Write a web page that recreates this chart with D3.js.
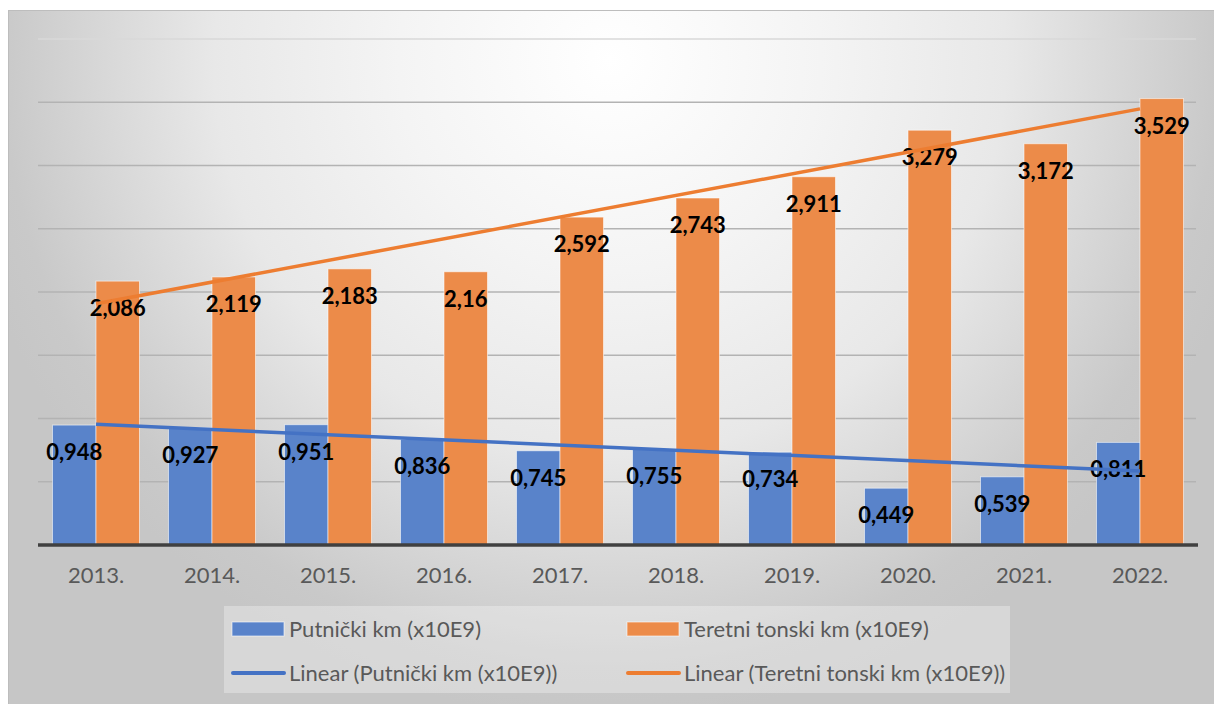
<!DOCTYPE html>
<html>
<head>
<meta charset="utf-8">
<script src="https://cdn.jsdelivr.net/npm/d3@7"></script>
<style>
  html, body { margin: 0; padding: 0; background: #fff; }
  svg { display: block; }
</style>
</head>
<body>
<div id="chart"></div>
<script>
// data
const years = ['2013.', '2014.', '2015.', '2016.', '2017.', '2018.', '2019.', '2020.', '2021.', '2022.'];
const putnicki = [0.948, 0.927, 0.951, 0.836, 0.745, 0.755, 0.734, 0.449, 0.539, 0.811];
const teretni = [2.086, 2.119, 2.183, 2.16, 2.592, 2.743, 2.911, 3.279, 3.172, 3.529];
const gridValues = [0.5, 1, 1.5, 2, 2.5, 3, 3.5, 4];
const seriesNames = ['Putnički km (x10E9)', 'Teretni tonski km (x10E9)'];
const trendNames = ['Linear (Putnički km (x10E9))', 'Linear (Teretni tonski km (x10E9))'];

const width = 1214, height = 704;
const colors = { blueBar: '#5983ca', orangeBar: '#ec8b49', blueLine: '#4472c4', orangeLine: '#ed7d31' };

const svg = d3.select('#chart').append('svg')
  .attr('width', width)
  .attr('height', height);

// background gradient
const defs = svg.append('defs');
const grad = defs.append('radialGradient')
  .attr('id', 'bg')
  .attr('gradientUnits', 'userSpaceOnUse')
  .attr('cx', 610).attr('cy', 60).attr('r', 660);
[[0, '#ffffff'], [0.32, '#f4f4f4'], [0.6, '#e8e8e8'], [0.92, '#c9c9c9'], [1, '#c6c6c6']]
  .forEach(s => grad.append('stop').attr('offset', s[0]).attr('stop-color', s[1]));

svg.append('rect')
  .attr('x', 8).attr('y', 10)
  .attr('width', width - 8).attr('height', height - 10)
  .attr('fill', 'url(#bg)');
svg.append('line')
  .attr('x1', 8).attr('x2', width).attr('y1', 10.5).attr('y2', 10.5)
  .attr('stroke', '#bdbdbd').attr('stroke-width', 1);
svg.append('line')
  .attr('x1', 8.5).attr('x2', 8.5).attr('y1', 10).attr('y2', height)
  .attr('stroke', '#bdbdbd').attr('stroke-width', 1);

// scales
const xScale = d3.scaleBand()
  .domain(years)
  .range([38, 1198])
  .paddingInner(0.25)
  .paddingOuter(0.125);

const xSub = d3.scaleBand()
  .domain([0, 1])
  .range([0, xScale.bandwidth()]);

const yScale = d3.scaleLinear()
  .domain([0, 4])
  .range([545, 39]);

// gridlines
svg.append('g')
  .selectAll('line')
  .data(gridValues)
  .join('line')
  .attr('x1', 38).attr('x2', 1196)
  .attr('y1', d => yScale(d)).attr('y2', d => yScale(d))
  .attr('stroke', d => d === 4 ? '#d8d8d8' : '#b3b3b3')
  .attr('stroke-width', 1.5);

// bars
const rows = years.map((y, i) => ({ year: y, vals: [putnicki[i], teretni[i]] }));
const groups = svg.append('g')
  .selectAll('g')
  .data(rows)
  .join('g')
  .attr('transform', d => `translate(${xScale(d.year)},0)`);

groups.selectAll('rect')
  .data(d => d.vals.map((v, k) => ({ k, v })))
  .join('rect')
  .attr('x', d => xSub(d.k))
  .attr('y', d => yScale(d.v))
  .attr('width', xSub.bandwidth())
  .attr('height', d => yScale(0) - yScale(d.v))
  .attr('fill', d => d.k === 0 ? colors.blueBar : colors.orangeBar)
  .attr('stroke', 'rgba(255,255,255,0.55)')
  .attr('stroke-width', 1);

// x axis
const xAxis = svg.append('g')
  .attr('transform', `translate(0, ${yScale(0)})`)
  .call(d3.axisBottom(xScale).tickSize(0).tickPadding(0));
xAxis.select('.domain').remove();
xAxis.selectAll('text')
  .attr('y', 38)
  .attr('dy', 0)
  .attr('fill', '#595959')
  .style('font-family', 'Lato, "Open Sans", sans-serif')
  .style('font-size', '22px');
svg.append('line')
  .attr('x1', 38).attr('x2', 1198)
  .attr('y1', yScale(0)).attr('y2', yScale(0))
  .attr('stroke', '#404040')
  .attr('stroke-width', 3.5);

// data labels
groups.selectAll('text.lbl')
  .data(d => d.vals.map((v, k) => ({ k, v })))
  .join('text')
  .attr('class', 'lbl')
  .attr('x', d => xSub(d.k) + xSub.bandwidth() / 2)
  .attr('y', d => yScale(d.v) + 35)
  .attr('text-anchor', 'middle')
  .attr('fill', '#000')
  .style('font-family', 'Lato, "Open Sans", sans-serif')
  .style('font-weight', 'bold')
  .style('font-size', '22px')
  .text(d => String(d.v).replace('.', ','));

// linear trend lines (least squares, like the spreadsheet trendline)
function trend(vals) {
  const n = vals.length;
  const mx = d3.mean(vals, (v, i) => i);
  const my = d3.mean(vals);
  const sxy = d3.sum(vals, (v, i) => (i - mx) * (v - my));
  const sxx = d3.sum(vals, (v, i) => (i - mx) * (i - mx));
  const b = sxy / sxx;
  const a = my - b * mx;
  return [[0, a], [n - 1, a + b * (n - 1)]];
}

const line = d3.line()
  .x(d => xScale(years[d[0]]) + xScale.bandwidth() / 2)
  .y(d => yScale(d[1]));

svg.append('path')
  .datum(trend(putnicki))
  .attr('fill', 'none')
  .attr('stroke', colors.blueLine)
  .attr('stroke-width', 3.5)
  .attr('d', line);

svg.append('path')
  .datum(trend(teretni))
  .attr('fill', 'none')
  .attr('stroke', colors.orangeLine)
  .attr('stroke-width', 3.5)
  .attr('d', line);

// legend
const legend = svg.append('g');
legend.append('rect')
  .attr('x', 224).attr('y', 606)
  .attr('width', 786).attr('height', 87)
  .attr('fill', 'rgba(255,255,255,0.3)');

const legendItems = [
  { name: seriesNames[0], color: colors.blueBar, type: 'bar', col: 0, row: 0 },
  { name: seriesNames[1], color: colors.orangeBar, type: 'bar', col: 1, row: 0 },
  { name: trendNames[0], color: colors.blueLine, type: 'line', col: 0, row: 1 },
  { name: trendNames[1], color: colors.orangeLine, type: 'line', col: 1, row: 1 }
];

const li = legend.selectAll('g.item')
  .data(legendItems)
  .join('g')
  .attr('class', 'item')
  .attr('transform', d => `translate(${232 + d.col * 395}, ${629 + d.row * 44})`);

li.filter(d => d.type === 'bar').append('rect')
  .attr('x', 0).attr('y', -7)
  .attr('width', 52).attr('height', 14)
  .attr('fill', d => d.color)
  .attr('stroke', 'rgba(255,255,255,0.6)');

li.filter(d => d.type === 'line').append('line')
  .attr('x1', 1).attr('x2', 52)
  .attr('y1', 0).attr('y2', 0)
  .attr('stroke', d => d.color)
  .attr('stroke-width', 4)
  .attr('stroke-linecap', 'round');

li.append('text')
  .attr('x', 57)
  .attr('y', 8)
  .attr('fill', '#595959')
  .style('font-family', 'Lato, "Open Sans", sans-serif')
  .style('font-size', '22px')
  .text(d => d.name);
</script>
</body>
</html>
